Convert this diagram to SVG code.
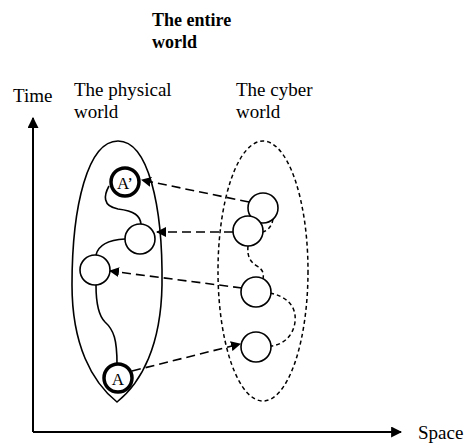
<svg xmlns="http://www.w3.org/2000/svg" width="468" height="443" viewBox="0 0 468 443">
<style>
text{font-family:"Liberation Serif","Times New Roman",serif;fill:#000}
.lbl{font-size:19px}
.ttl{font-size:18px;font-weight:bold}
.node{fill:#fff;stroke:#000;stroke-width:1.6}
.key{fill:#fff;stroke:#000;stroke-width:3.5}
.solid{fill:none;stroke:#000;stroke-width:1.6}
.dot{fill:none;stroke:#000;stroke-width:1.5;stroke-dasharray:4 3}
.arr{fill:none;stroke:#000;stroke-width:1.6;stroke-dasharray:9 5}
.axis{fill:none;stroke:#000;stroke-width:2}
</style>
<defs>
<marker id="ah" viewBox="0 0 10 10" refX="9" refY="5" markerWidth="10" markerHeight="10" markerUnits="userSpaceOnUse" orient="auto">
<path d="M0,0 L10,5 L0,10 Z" fill="#000"/>
</marker>
<marker id="axh" viewBox="0 0 10 10" refX="9" refY="5" markerWidth="11" markerHeight="11" markerUnits="userSpaceOnUse" orient="auto">
<path d="M0,0 L10,5 L0,10 Z" fill="#000"/>
</marker>
</defs>
<g id="title"><text class="ttl" x="152" y="26">The entire</text><text class="ttl" x="152" y="48">world</text></g>
<g id="axes">
<line class="axis" x1="33" y1="432" x2="33" y2="118" marker-end="url(#axh)"/>
<line class="axis" x1="33" y1="432" x2="401" y2="432" marker-end="url(#axh)"/>
<text class="lbl" x="13" y="102">Time</text>
<text class="lbl" x="418" y="439">Space</text>
</g>
<g id="physical-world">
<path class="solid" d="M118,141 C148,141 163,205 162,285 C161,345 142,382 117,402 C92,382 72,345 72,285 C72,205 88,141 118,141 Z"/>
<text class="lbl" x="74" y="96">The physical</text>
<text class="lbl" x="74" y="118">world</text>
</g>
<g id="cyber-world">
<ellipse class="dot" cx="263" cy="271" rx="45" ry="130"/>
<text class="lbl" x="236" y="96">The cyber</text>
<text class="lbl" x="236" y="118">world</text>
</g>
<g id="connectors">
<path class="solid" d="M109,186 C104,195 102,206 118,209 C135,211 140,216 141,224"/>
<path class="solid" d="M125,239 C108,240 98,246 96,255"/>
<path class="solid" d="M96,285 C96,300 98,315 105,322 C114,330 117,340 117,364"/>
<path class="dot" d="M273,219 C272,226 268,231 262,232"/>
<path class="dot" d="M248,246 C247,256 250,262 257,266 C263,270 264,273 263,279"/>
<path class="dot" d="M270,293 C285,296 297,305 295,322 C293,337 282,345 271,346"/>
<path class="arr" d="M249,202 L142,180" marker-end="url(#ah)"/>
<path class="arr" d="M233,232 L157,232" marker-end="url(#ah)"/>
<path class="arr" d="M242,288 L110,271" marker-end="url(#ah)"/>
<path class="arr" d="M132,371 L240,344" marker-end="url(#ah)"/>
</g>
<g id="node-A-prime"><circle class="key" cx="125" cy="182" r="14"/><text x="125" y="189" font-size="17" text-anchor="middle">A’</text></g>
<g id="node-p2"><circle class="node" cx="140" cy="239" r="15"/></g>
<g id="node-p3"><circle class="node" cx="95" cy="270" r="15"/></g>
<g id="node-A"><circle class="key" cx="118" cy="378" r="14"/><text x="118" y="385" font-size="17" text-anchor="middle">A</text></g>
<g id="node-c1"><circle class="node" cx="263" cy="208" r="15"/></g>
<g id="node-c2"><circle class="node" cx="248" cy="231" r="15"/></g>
<g id="node-c3"><circle class="node" cx="256" cy="292" r="15"/></g>
<g id="node-c4"><circle class="node" cx="256" cy="347" r="15"/></g>
</svg>
